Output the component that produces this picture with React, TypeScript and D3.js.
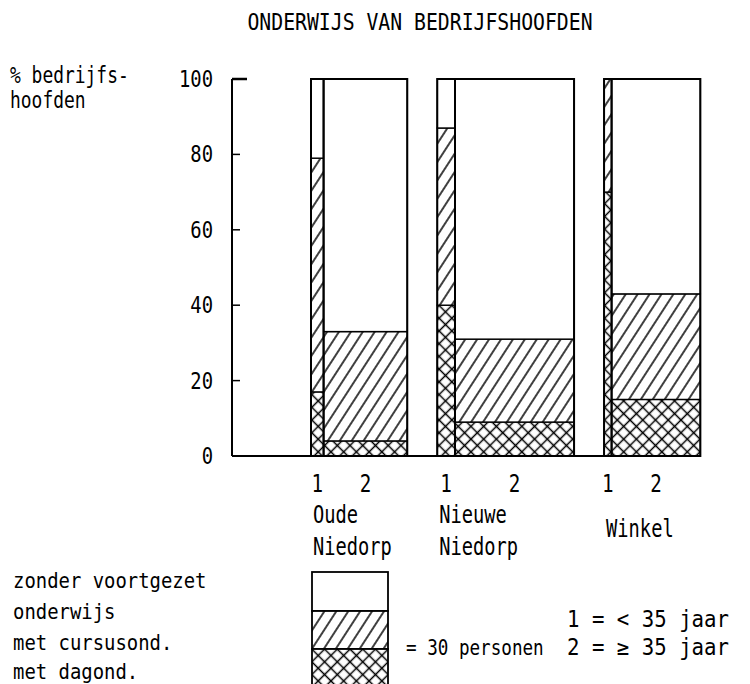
import React, { useRef, useEffect } from 'react';
import * as d3 from 'd3';

const title = 'ONDERWIJS VAN BEDRIJFSHOOFDEN';
const yLabel = ['% bedrijfs-', 'hoofden'];
const villageLines = [['Oude', 'Niedorp'], ['Nieuwe', 'Niedorp'], ['Winkel']];
const ageGroups = ['1', '2'];
// number of farm heads per age group (bar width)
const persons = [[5, 33], [7, 47], [3, 35]];
// share (%) per education category, per age group
const dagond = [[17, 4], [40, 9], [70, 15]];
const cursusond = [[62, 29], [47, 22], [30, 28]];
const zonder = [[21, 67], [13, 69], [0, 57]];
const yTicks = [0, 20, 40, 60, 80, 100];
const legendPersons = 30;
const legendLabels = ['zonder voortgezet', 'onderwijs', 'met cursusond.', 'met dagond.'];
const ageLabels = ['1 = < 35 jaar', '2 = ≥ 35 jaar'];

const FONT = "'DejaVu Sans Mono', 'Liberation Mono', monospace";
const INK = '#000';

const W = 750;
const H = 684;

const App: React.FC = () => {
  const ref = useRef<SVGSVGElement>(null);

  useEffect(() => {
    const svg = d3.select(ref.current);
    svg.selectAll('*').remove();

    const defs = svg.append('defs');
    const hatch = defs
      .append('pattern')
      .attr('id', 'hatch')
      .attr('patternUnits', 'userSpaceOnUse')
      .attr('width', 10)
      .attr('height', 10)
      .attr('patternTransform', 'rotate(33)');
    hatch.append('rect').attr('width', 10).attr('height', 10).attr('fill', '#fff');
    hatch.append('line').attr('x1', 5).attr('y1', 0).attr('x2', 5).attr('y2', 10)
      .attr('stroke', INK).attr('stroke-width', 1.5);

    const cross = defs
      .append('pattern')
      .attr('id', 'cross')
      .attr('patternUnits', 'userSpaceOnUse')
      .attr('width', 9)
      .attr('height', 9)
      .attr('patternTransform', 'rotate(45)');
    cross.append('rect').attr('width', 9).attr('height', 9).attr('fill', '#fff');
    cross.append('line').attr('x1', 4.5).attr('y1', 0).attr('x2', 4.5).attr('y2', 9)
      .attr('stroke', INK).attr('stroke-width', 1.5);
    cross.append('line').attr('x1', 0).attr('y1', 4.5).attr('x2', 9).attr('y2', 4.5)
      .attr('stroke', INK).attr('stroke-width', 1.5);

    const text = (
      t: string, x: number, y: number,
      size = 22, sx = 0.85, anchor = 'start',
    ) => {
      svg.append('text')
        .attr('transform', `translate(${x},${y}) scale(${sx},1)`)
        .attr('text-anchor', anchor)
        .attr('font-family', FONT)
        .attr('font-size', size)
        .attr('fill', INK)
        .text(t);
    };

    const y = d3.scaleLinear().domain([0, 100]).range([456, 79]);
    const w = d3.scaleLinear().domain([0, legendPersons]).range([0, 76]);
    const axisX = 232;
    const firstX = 311;
    const gap = 30;

    // title + y label
    text(title, 420, 30, 23, 0.86, 'middle');
    text(yLabel[0], 10, 83, 23, 0.78);
    text(yLabel[1], 10, 108, 23, 0.78);

    // y axis
    svg.append('line').attr('x1', axisX).attr('x2', axisX)
      .attr('y1', y(100)).attr('y2', y(0)).attr('stroke', INK).attr('stroke-width', 2);
    yTicks.forEach((t) => {
      text(String(t), 213, y(t) + 8, 23, 0.82, 'end');
      if (t > 0) {
        svg.append('line').attr('x1', axisX).attr('x2', axisX + (t === 100 ? 15 : 8))
          .attr('y1', y(t)).attr('y2', y(t)).attr('stroke', INK)
          .attr('stroke-width', t === 100 ? 2.5 : 1.5);
      }
    });

    // bars
    let x0 = firstX;
    const segs = [dagond, cursusond, zonder];
    const fills = ['url(#cross)', 'url(#hatch)', '#fff'];
    let lastX = x0;
    villageLines.forEach((lines, i) => {
      const groupStart = x0;
      persons[i].forEach((p, j) => {
        const bw = w(p);
        let acc = 0;
        segs.forEach((s, k) => {
          const v = s[i][j];
          if (v <= 0) return;
          svg.append('rect')
            .attr('x', x0).attr('width', bw)
            .attr('y', y(acc + v)).attr('height', y(acc) - y(acc + v))
            .attr('fill', fills[k]).attr('stroke', INK).attr('stroke-width', 1.4);
          acc += v;
        });
        svg.append('rect').attr('x', x0).attr('width', bw)
          .attr('y', y(100)).attr('height', y(0) - y(100))
          .attr('fill', 'none').attr('stroke', INK).attr('stroke-width', 2);
        text(ageGroups[j], x0 + bw / 2, 492, 24, 0.8, 'middle');
        x0 += bw;
      });
      lines.forEach((l, k) => {
        const ly = lines.length === 1 ? 537 : 523 + k * 32;
        text(l, groupStart + 2, ly, 24, 0.78);
      });
      lastX = x0;
      x0 += gap;
    });

    // baseline
    svg.append('line').attr('x1', axisX).attr('x2', lastX)
      .attr('y1', y(0)).attr('y2', y(0)).attr('stroke', INK).attr('stroke-width', 2);

    // legend
    const lx = firstX + 1;
    const lw = w(legendPersons);
    const rows = [572, 611, 649, 690];
    ['#fff', 'url(#hatch)', 'url(#cross)'].forEach((f, k) => {
      svg.append('rect').attr('x', lx).attr('width', lw)
        .attr('y', rows[k]).attr('height', rows[k + 1] - rows[k])
        .attr('fill', f).attr('stroke', INK).attr('stroke-width', 1.8);
    });
    legendLabels.forEach((l, k) => text(l, 13, [588, 619, 650, 679][k], 22, 0.86));
    text(`= ${legendPersons} personen`, 406, 655, 22, 0.8);
    text(ageLabels[0], 567, 627, 23, 0.9);
    text(ageLabels[1], 567, 655, 23, 0.9);
  }, []);

  return (
    <svg
      ref={ref}
      width={W}
      height={H}
      style={{ position: 'absolute', left: 0, top: 0, background: '#fff' }}
    />
  );
};

export default App;
